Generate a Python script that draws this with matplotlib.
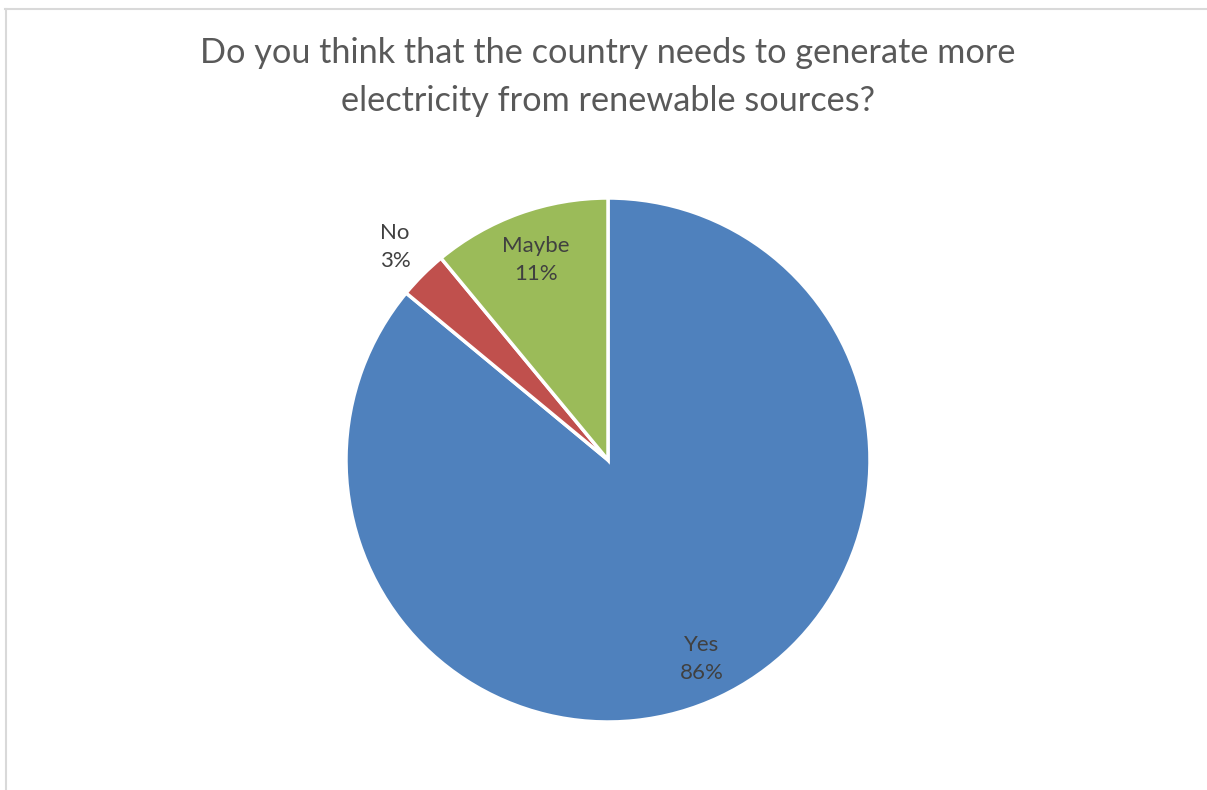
import numpy as np
import matplotlib
matplotlib.use("Agg")
import matplotlib.pyplot as plt
from matplotlib.lines import Line2D

categories = ["Yes", "No", "Maybe"]
values = [86, 3, 11]
colors = ["#4F81BD", "#C0504D", "#9BBB59"]
title = "Do you think that the country needs to generate more\nelectricity from renewable sources?"
label_radius = [0.84, 1.15, 0.81]

plt.rcParams['font.family'] = ['Lato', 'DejaVu Sans']

W, H = 1207, 790
fig = plt.figure(figsize=(W / 100, H / 100), dpi=100)

# border lines (top and left)
fig.add_artist(Line2D([5 / W, 1], [1 - 8.5 / H, 1 - 8.5 / H], color="#d9d9d9", lw=1.5, transform=fig.transFigure))
fig.add_artist(Line2D([5.5 / W, 5.5 / W], [0, 1 - 8.5 / H], color="#d9d9d9", lw=1.5, transform=fig.transFigure))

cx, cy, r = 608, 460, 262
ax = fig.add_axes([(cx - r) / W, (H - cy - r) / H, 2 * r / W, 2 * r / H])
wedges, _ = ax.pie(values, colors=colors, startangle=90, counterclock=False,
                   radius=1, wedgeprops=dict(edgecolor="white", linewidth=2.5))
ax.set_xlim(-1, 1)
ax.set_ylim(-1, 1)
ax.set_aspect("auto")
ax.axis("off")

total = sum(values)
start = 90.0
for cat, v, lr in zip(categories, values, label_radius):
    ang = start - v / total * 360 / 2
    start -= v / total * 360
    x = lr * np.cos(np.radians(ang))
    y = lr * np.sin(np.radians(ang))
    ax.text(x, y, f"{cat}\n{v}%", ha="center", va="center", fontsize=16,
            color="#404040", linespacing=1.5)

fig.text(608 / W, 1 - 77 / H, title, ha="center", va="center", fontsize=24.7,
         color="#595959", linespacing=1.58)

fig.savefig("out.png", dpi=100)
